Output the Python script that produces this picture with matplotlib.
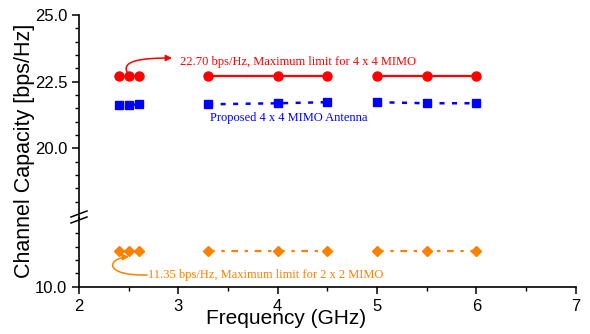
import matplotlib
matplotlib.use("Agg")
import matplotlib.pyplot as plt
from matplotlib.ticker import FixedLocator, FormatStrFormatter
from matplotlib.patches import FancyArrowPatch
from matplotlib.path import Path

# Frequency groups (GHz)
freq_groups = [[2.4, 2.5, 2.6], [3.3, 4.0, 4.5], [5.0, 5.5, 6.0]]

# Channel capacity (bps/Hz)
limit_4x4 = [[22.70, 22.70, 22.70], [22.70, 22.70, 22.70], [22.70, 22.70, 22.70]]
proposed_4x4 = [[21.62, 21.62, 21.65], [21.65, 21.69, 21.73], [21.73, 21.69, 21.69]]
limit_2x2 = [[11.35, 11.35, 11.35], [11.35, 11.35, 11.35], [11.35, 11.35, 11.35]]

label_4x4 = "22.70 bps/Hz, Maximum limit for 4 x 4 MIMO"
label_prop = "Proposed 4 x 4 MIMO Antenna"
label_2x2 = "11.35 bps/Hz, Maximum limit for 2 x 2 MIMO"

red = "#ff0000"
blue = "#0000ff"
orange = "#ff8000"

plt.rcParams["font.family"] = ["Liberation Sans", "DejaVu Sans"]

fig = plt.figure(figsize=(5.9, 3.34), dpi=100)
W, H = 590, 334
left, right = 79 / W, 575.7 / W
y_top, y_break, y_bot = 15 / H, 217.5 / H, 286.7 / H

ax_top = fig.add_axes([left, 1 - y_break, right - left, y_break - y_top])
ax_bot = fig.add_axes([left, 1 - y_bot, right - left, y_bot - y_break])

ax_top.set_ylim(17.405, 25.0)
ax_bot.set_ylim(10.0, 12.595)
for ax in (ax_top, ax_bot):
    ax.set_xlim(2, 7)
    ax.patch.set_alpha(0)
    for s in ("top", "right"):
        ax.spines[s].set_visible(False)
    ax.spines["left"].set_linewidth(1.2)
    ax.spines["bottom"].set_linewidth(1.2)
    ax.tick_params(axis="both", which="major", direction="out", length=5,
                   width=1.1, labelsize=12)
    ax.tick_params(axis="both", which="minor", direction="out", length=3,
                   width=1.0)
    ax.yaxis.set_major_formatter(FormatStrFormatter("%.1f"))

ax_top.spines["bottom"].set_visible(False)
ax_top.tick_params(axis="x", which="both", bottom=False, labelbottom=False)
ax_top.yaxis.set_major_locator(FixedLocator([20.0, 22.5, 25.0]))
ax_top.yaxis.set_minor_locator(FixedLocator(
    [v / 2 for v in range(36, 50) if v % 5 != 0]))

ax_bot.yaxis.set_major_locator(FixedLocator([10.0]))
ax_bot.yaxis.set_minor_locator(FixedLocator([10.5, 11.0, 11.5, 12.0]))
ax_bot.xaxis.set_major_locator(FixedLocator([2, 3, 4, 5, 6, 7]))
ax_bot.xaxis.set_minor_locator(FixedLocator([2.5, 3.5, 4.5, 5.5, 6.5]))

for xs, r, b, o in zip(freq_groups, limit_4x4, proposed_4x4, limit_2x2):
    ax_top.plot(xs, r, color=red, lw=1.6, ls="-", marker="o", ms=6.5,
                clip_on=False)
    ax_top.plot(xs, b, color=blue, lw=1.8, ls=(0, (2, 3)), marker="s", ms=5.5,
                clip_on=False)
    ax_bot.plot(xs, o, color=orange, lw=1.6, ls=(0, (3, 3, 1.5, 3)),
                marker="D", ms=5.5, clip_on=False)

serif = ["Liberation Serif", "DejaVu Serif"]
ax_top.text(3.02, 23.25, label_4x4, color=red, fontsize=9.0, family=serif,
            va="center", ha="left")
ax_top.text(3.32, 21.13, label_prop, color=blue, fontsize=9.0, family=serif,
            va="center", ha="left")
ax_bot.text(2.69, 10.44, label_2x2, color=orange, fontsize=9.0, family=serif,
            va="center", ha="left")


def px(ax, x, y):
    """Pixel position (from top-left) to data coordinates of ax."""
    return tuple(ax.transData.inverted().transform((x, H - y)))


# curved pointer from the 4x4 markers up to their label
red_path = Path([px(ax_top, 127, 72), px(ax_top, 122, 61),
                 px(ax_top, 140, 58), px(ax_top, 172, 58)],
                [Path.MOVETO, Path.CURVE4, Path.CURVE4, Path.CURVE4])
ax_top.add_patch(FancyArrowPatch(path=red_path, arrowstyle="-|>",
                                 mutation_scale=9, color=red, lw=1.1,
                                 clip_on=False))

# curved pointer from the 2x2 label back to its markers
orange_path = Path([px(ax_bot, 147, 275), px(ax_bot, 104, 276),
                    px(ax_bot, 106, 259), px(ax_bot, 129, 256.5)],
                   [Path.MOVETO, Path.CURVE4, Path.CURVE4, Path.CURVE4])
ax_bot.add_patch(FancyArrowPatch(path=orange_path, arrowstyle="-|>",
                                 mutation_scale=9, color=orange, lw=1.1,
                                 clip_on=False))

# axis break marks
for dy in (-3.5, 2.5):
    yb = 1 - (217.5 + dy) / H
    fig.add_artist(plt.Line2D([left - 8 / W, left + 8 / W],
                              [yb - 3 / H, yb + 3 / H], color="black",
                              lw=1.1, transform=fig.transFigure))

fig.text(25 / W, 1 - 151 / H, "Channel Capacity [bps/Hz]", rotation=90,
         ha="center", va="center", fontsize=15.5)
fig.text(286 / W, 1 - 319 / H, "Frequency (GHz)", ha="center", va="center",
         fontsize=15)

fig.savefig("out.png", dpi=100)
